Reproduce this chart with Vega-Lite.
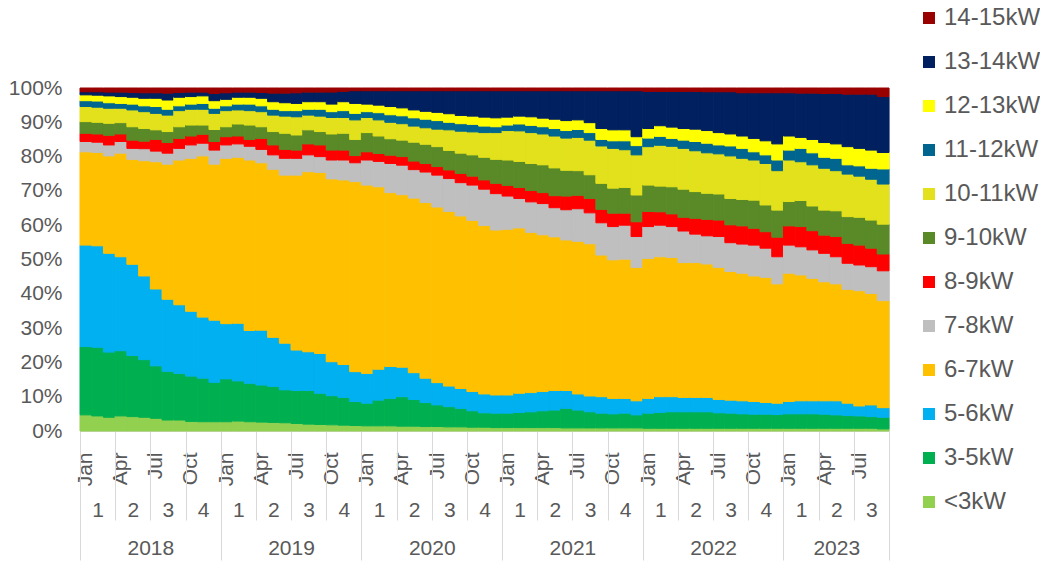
{
"$schema": "https://vega.github.io/schema/vega-lite/v6.json",
"width": 809, "height": 343,
"autosize": {"type": "none"},
"padding": {"left": 80, "top": 88, "right": 151, "bottom": 140},
"background": "white",
"config": {"view": {"stroke": "#d9d9d9"}, "font": "Liberation Sans",
  "axis": {"labelFont": "Liberation Sans", "labelColor": "#595959", "labelFontSize": 21, "grid": false, "title": null}},
"resolve": {"scale": {"x": "independent"}, "axis": {"x": "independent"}},
"layer": [
{
"data": {"values": [
{"m":"2018-01","s":"<3kW","k":0,"v":4.7},{"m":"2018-01","s":"3-5kW","k":1,"v":19.9},{"m":"2018-01","s":"5-6kW","k":2,"v":29.6},{"m":"2018-01","s":"6-7kW","k":3,"v":27.2},{"m":"2018-01","s":"7-8kW","k":4,"v":3.0},{"m":"2018-01","s":"8-9kW","k":5,"v":2.4},{"m":"2018-01","s":"9-10kW","k":6,"v":3.4},{"m":"2018-01","s":"10-11kW","k":7,"v":4.4},{"m":"2018-01","s":"11-12kW","k":8,"v":1.7},{"m":"2018-01","s":"12-13kW","k":9,"v":1.7},{"m":"2018-01","s":"13-14kW","k":10,"v":0.9},{"m":"2018-01","s":"14-15kW","k":11,"v":1.1},
{"m":"2018-02","s":"<3kW","k":0,"v":4.4},{"m":"2018-02","s":"3-5kW","k":1,"v":20.0},{"m":"2018-02","s":"5-6kW","k":2,"v":29.6},{"m":"2018-02","s":"6-7kW","k":3,"v":27.2},{"m":"2018-02","s":"7-8kW","k":4,"v":3.0},{"m":"2018-02","s":"8-9kW","k":5,"v":2.4},{"m":"2018-02","s":"9-10kW","k":6,"v":3.4},{"m":"2018-02","s":"10-11kW","k":7,"v":4.4},{"m":"2018-02","s":"11-12kW","k":8,"v":1.8},{"m":"2018-02","s":"12-13kW","k":9,"v":1.7},{"m":"2018-02","s":"13-14kW","k":10,"v":1.0},{"m":"2018-02","s":"14-15kW","k":11,"v":1.1},
{"m":"2018-03","s":"<3kW","k":0,"v":4.0},{"m":"2018-03","s":"3-5kW","k":1,"v":19.0},{"m":"2018-03","s":"5-6kW","k":2,"v":28.8},{"m":"2018-03","s":"6-7kW","k":3,"v":28.4},{"m":"2018-03","s":"7-8kW","k":4,"v":3.2},{"m":"2018-03","s":"8-9kW","k":5,"v":2.8},{"m":"2018-03","s":"9-10kW","k":6,"v":3.5},{"m":"2018-03","s":"10-11kW","k":7,"v":4.4},{"m":"2018-03","s":"11-12kW","k":8,"v":1.6},{"m":"2018-03","s":"12-13kW","k":9,"v":2.0},{"m":"2018-03","s":"13-14kW","k":10,"v":1.1},{"m":"2018-03","s":"14-15kW","k":11,"v":1.2},
{"m":"2018-04","s":"<3kW","k":0,"v":4.4},{"m":"2018-04","s":"3-5kW","k":1,"v":19.0},{"m":"2018-04","s":"5-6kW","k":2,"v":27.4},{"m":"2018-04","s":"6-7kW","k":3,"v":30.2},{"m":"2018-04","s":"7-8kW","k":4,"v":3.4},{"m":"2018-04","s":"8-9kW","k":5,"v":2.2},{"m":"2018-04","s":"9-10kW","k":6,"v":3.3},{"m":"2018-04","s":"10-11kW","k":7,"v":4.2},{"m":"2018-04","s":"11-12kW","k":8,"v":1.4},{"m":"2018-04","s":"12-13kW","k":9,"v":2.0},{"m":"2018-04","s":"13-14kW","k":10,"v":1.3},{"m":"2018-04","s":"14-15kW","k":11,"v":1.2},
{"m":"2018-05","s":"<3kW","k":0,"v":4.2},{"m":"2018-05","s":"3-5kW","k":1,"v":17.8},{"m":"2018-05","s":"5-6kW","k":2,"v":26.6},{"m":"2018-05","s":"6-7kW","k":3,"v":30.6},{"m":"2018-05","s":"7-8kW","k":4,"v":3.2},{"m":"2018-05","s":"8-9kW","k":5,"v":2.4},{"m":"2018-05","s":"9-10kW","k":6,"v":3.9},{"m":"2018-05","s":"10-11kW","k":7,"v":4.9},{"m":"2018-05","s":"11-12kW","k":8,"v":1.7},{"m":"2018-05","s":"12-13kW","k":9,"v":2.0},{"m":"2018-05","s":"13-14kW","k":10,"v":1.4},{"m":"2018-05","s":"14-15kW","k":11,"v":1.3},
{"m":"2018-06","s":"<3kW","k":0,"v":4.0},{"m":"2018-06","s":"3-5kW","k":1,"v":16.8},{"m":"2018-06","s":"5-6kW","k":2,"v":24.4},{"m":"2018-06","s":"6-7kW","k":3,"v":33.6},{"m":"2018-06","s":"7-8kW","k":4,"v":3.5},{"m":"2018-06","s":"8-9kW","k":5,"v":2.2},{"m":"2018-06","s":"9-10kW","k":6,"v":3.7},{"m":"2018-06","s":"10-11kW","k":7,"v":4.9},{"m":"2018-06","s":"11-12kW","k":8,"v":1.7},{"m":"2018-06","s":"12-13kW","k":9,"v":2.2},{"m":"2018-06","s":"13-14kW","k":10,"v":1.6},{"m":"2018-06","s":"14-15kW","k":11,"v":1.4},
{"m":"2018-07","s":"<3kW","k":0,"v":3.7},{"m":"2018-07","s":"3-5kW","k":1,"v":15.3},{"m":"2018-07","s":"5-6kW","k":2,"v":22.4},{"m":"2018-07","s":"6-7kW","k":3,"v":37.1},{"m":"2018-07","s":"7-8kW","k":4,"v":3.1},{"m":"2018-07","s":"8-9kW","k":5,"v":3.4},{"m":"2018-07","s":"9-10kW","k":6,"v":2.8},{"m":"2018-07","s":"10-11kW","k":7,"v":4.8},{"m":"2018-07","s":"11-12kW","k":8,"v":2.0},{"m":"2018-07","s":"12-13kW","k":9,"v":2.4},{"m":"2018-07","s":"13-14kW","k":10,"v":1.6},{"m":"2018-07","s":"14-15kW","k":11,"v":1.4},
{"m":"2018-08","s":"<3kW","k":0,"v":3.2},{"m":"2018-08","s":"3-5kW","k":1,"v":14.2},{"m":"2018-08","s":"5-6kW","k":2,"v":21.0},{"m":"2018-08","s":"6-7kW","k":3,"v":39.4},{"m":"2018-08","s":"7-8kW","k":4,"v":3.2},{"m":"2018-08","s":"8-9kW","k":5,"v":3.1},{"m":"2018-08","s":"9-10kW","k":6,"v":3.2},{"m":"2018-08","s":"10-11kW","k":7,"v":4.8},{"m":"2018-08","s":"11-12kW","k":8,"v":1.7},{"m":"2018-08","s":"12-13kW","k":9,"v":2.7},{"m":"2018-08","s":"13-14kW","k":10,"v":2.0},{"m":"2018-08","s":"14-15kW","k":11,"v":1.5},
{"m":"2018-09","s":"<3kW","k":0,"v":3.2},{"m":"2018-09","s":"3-5kW","k":1,"v":13.6},{"m":"2018-09","s":"5-6kW","k":2,"v":20.0},{"m":"2018-09","s":"6-7kW","k":3,"v":42.2},{"m":"2018-09","s":"7-8kW","k":4,"v":3.4},{"m":"2018-09","s":"8-9kW","k":5,"v":2.9},{"m":"2018-09","s":"9-10kW","k":6,"v":3.4},{"m":"2018-09","s":"10-11kW","k":7,"v":4.7},{"m":"2018-09","s":"11-12kW","k":8,"v":1.4},{"m":"2018-09","s":"12-13kW","k":9,"v":2.5},{"m":"2018-09","s":"13-14kW","k":10,"v":1.4},{"m":"2018-09","s":"14-15kW","k":11,"v":1.3},
{"m":"2018-10","s":"<3kW","k":0,"v":2.8},{"m":"2018-10","s":"3-5kW","k":1,"v":13.2},{"m":"2018-10","s":"5-6kW","k":2,"v":18.9},{"m":"2018-10","s":"6-7kW","k":3,"v":44.6},{"m":"2018-10","s":"7-8kW","k":4,"v":3.9},{"m":"2018-10","s":"8-9kW","k":5,"v":2.6},{"m":"2018-10","s":"9-10kW","k":6,"v":3.2},{"m":"2018-10","s":"10-11kW","k":7,"v":4.6},{"m":"2018-10","s":"11-12kW","k":8,"v":1.5},{"m":"2018-10","s":"12-13kW","k":9,"v":2.2},{"m":"2018-10","s":"13-14kW","k":10,"v":1.3},{"m":"2018-10","s":"14-15kW","k":11,"v":1.2},
{"m":"2018-11","s":"<3kW","k":0,"v":2.7},{"m":"2018-11","s":"3-5kW","k":1,"v":12.7},{"m":"2018-11","s":"5-6kW","k":2,"v":17.8},{"m":"2018-11","s":"6-7kW","k":3,"v":47.0},{"m":"2018-11","s":"7-8kW","k":4,"v":3.7},{"m":"2018-11","s":"8-9kW","k":5,"v":2.6},{"m":"2018-11","s":"9-10kW","k":6,"v":2.7},{"m":"2018-11","s":"10-11kW","k":7,"v":4.6},{"m":"2018-11","s":"11-12kW","k":8,"v":1.7},{"m":"2018-11","s":"12-13kW","k":9,"v":2.2},{"m":"2018-11","s":"13-14kW","k":10,"v":1.1},{"m":"2018-11","s":"14-15kW","k":11,"v":1.2},
{"m":"2018-12","s":"<3kW","k":0,"v":2.7},{"m":"2018-12","s":"3-5kW","k":1,"v":11.5},{"m":"2018-12","s":"5-6kW","k":2,"v":18.1},{"m":"2018-12","s":"6-7kW","k":3,"v":45.5},{"m":"2018-12","s":"7-8kW","k":4,"v":4.1},{"m":"2018-12","s":"8-9kW","k":5,"v":2.5},{"m":"2018-12","s":"9-10kW","k":6,"v":3.5},{"m":"2018-12","s":"10-11kW","k":7,"v":4.7},{"m":"2018-12","s":"11-12kW","k":8,"v":1.5},{"m":"2018-12","s":"12-13kW","k":9,"v":2.2},{"m":"2018-12","s":"13-14kW","k":10,"v":2.1},{"m":"2018-12","s":"14-15kW","k":11,"v":1.6},
{"m":"2019-01","s":"<3kW","k":0,"v":2.7},{"m":"2019-01","s":"3-5kW","k":1,"v":12.5},{"m":"2019-01","s":"5-6kW","k":2,"v":16.1},{"m":"2019-01","s":"6-7kW","k":3,"v":48.2},{"m":"2019-01","s":"7-8kW","k":4,"v":3.9},{"m":"2019-01","s":"8-9kW","k":5,"v":2.4},{"m":"2019-01","s":"9-10kW","k":6,"v":2.9},{"m":"2019-01","s":"10-11kW","k":7,"v":4.7},{"m":"2019-01","s":"11-12kW","k":8,"v":1.4},{"m":"2019-01","s":"12-13kW","k":9,"v":1.9},{"m":"2019-01","s":"13-14kW","k":10,"v":1.9},{"m":"2019-01","s":"14-15kW","k":11,"v":1.4},
{"m":"2019-02","s":"<3kW","k":0,"v":2.9},{"m":"2019-02","s":"3-5kW","k":1,"v":11.7},{"m":"2019-02","s":"5-6kW","k":2,"v":16.8},{"m":"2019-02","s":"6-7kW","k":3,"v":48.4},{"m":"2019-02","s":"7-8kW","k":4,"v":3.9},{"m":"2019-02","s":"8-9kW","k":5,"v":2.3},{"m":"2019-02","s":"9-10kW","k":6,"v":3.5},{"m":"2019-02","s":"10-11kW","k":7,"v":4.1},{"m":"2019-02","s":"11-12kW","k":8,"v":1.7},{"m":"2019-02","s":"12-13kW","k":9,"v":2.0},{"m":"2019-02","s":"13-14kW","k":10,"v":1.5},{"m":"2019-02","s":"14-15kW","k":11,"v":1.2},
{"m":"2019-03","s":"<3kW","k":0,"v":2.7},{"m":"2019-03","s":"3-5kW","k":1,"v":11.2},{"m":"2019-03","s":"5-6kW","k":2,"v":15.4},{"m":"2019-03","s":"6-7kW","k":3,"v":49.7},{"m":"2019-03","s":"7-8kW","k":4,"v":4.0},{"m":"2019-03","s":"8-9kW","k":5,"v":2.0},{"m":"2019-03","s":"9-10kW","k":6,"v":4.2},{"m":"2019-03","s":"10-11kW","k":7,"v":4.2},{"m":"2019-03","s":"11-12kW","k":8,"v":1.9},{"m":"2019-03","s":"12-13kW","k":9,"v":2.0},{"m":"2019-03","s":"13-14kW","k":10,"v":1.5},{"m":"2019-03","s":"14-15kW","k":11,"v":1.2},
{"m":"2019-04","s":"<3kW","k":0,"v":2.6},{"m":"2019-04","s":"3-5kW","k":1,"v":10.8},{"m":"2019-04","s":"5-6kW","k":2,"v":16.0},{"m":"2019-04","s":"6-7kW","k":3,"v":48.8},{"m":"2019-04","s":"7-8kW","k":4,"v":3.9},{"m":"2019-04","s":"8-9kW","k":5,"v":3.2},{"m":"2019-04","s":"9-10kW","k":6,"v":3.4},{"m":"2019-04","s":"10-11kW","k":7,"v":4.4},{"m":"2019-04","s":"11-12kW","k":8,"v":1.7},{"m":"2019-04","s":"12-13kW","k":9,"v":2.2},{"m":"2019-04","s":"13-14kW","k":10,"v":1.7},{"m":"2019-04","s":"14-15kW","k":11,"v":1.3},
{"m":"2019-05","s":"<3kW","k":0,"v":2.5},{"m":"2019-05","s":"3-5kW","k":1,"v":10.5},{"m":"2019-05","s":"5-6kW","k":2,"v":14.3},{"m":"2019-05","s":"6-7kW","k":3,"v":49.0},{"m":"2019-05","s":"7-8kW","k":4,"v":4.2},{"m":"2019-05","s":"8-9kW","k":5,"v":2.9},{"m":"2019-05","s":"9-10kW","k":6,"v":3.9},{"m":"2019-05","s":"10-11kW","k":7,"v":4.8},{"m":"2019-05","s":"11-12kW","k":8,"v":1.7},{"m":"2019-05","s":"12-13kW","k":9,"v":2.2},{"m":"2019-05","s":"13-14kW","k":10,"v":2.5},{"m":"2019-05","s":"14-15kW","k":11,"v":1.5},
{"m":"2019-06","s":"<3kW","k":0,"v":2.4},{"m":"2019-06","s":"3-5kW","k":1,"v":9.6},{"m":"2019-06","s":"5-6kW","k":2,"v":13.6},{"m":"2019-06","s":"6-7kW","k":3,"v":49.0},{"m":"2019-06","s":"7-8kW","k":4,"v":4.9},{"m":"2019-06","s":"8-9kW","k":5,"v":2.6},{"m":"2019-06","s":"9-10kW","k":6,"v":4.7},{"m":"2019-06","s":"10-11kW","k":7,"v":5.0},{"m":"2019-06","s":"11-12kW","k":8,"v":1.6},{"m":"2019-06","s":"12-13kW","k":9,"v":2.3},{"m":"2019-06","s":"13-14kW","k":10,"v":2.8},{"m":"2019-06","s":"14-15kW","k":11,"v":1.5},
{"m":"2019-07","s":"<3kW","k":0,"v":2.2},{"m":"2019-07","s":"3-5kW","k":1,"v":9.6},{"m":"2019-07","s":"5-6kW","k":2,"v":11.8},{"m":"2019-07","s":"6-7kW","k":3,"v":51.0},{"m":"2019-07","s":"7-8kW","k":4,"v":4.9},{"m":"2019-07","s":"8-9kW","k":5,"v":2.4},{"m":"2019-07","s":"9-10kW","k":6,"v":4.4},{"m":"2019-07","s":"10-11kW","k":7,"v":5.3},{"m":"2019-07","s":"11-12kW","k":8,"v":1.8},{"m":"2019-07","s":"12-13kW","k":9,"v":2.1},{"m":"2019-07","s":"13-14kW","k":10,"v":3.1},{"m":"2019-07","s":"14-15kW","k":11,"v":1.4},
{"m":"2019-08","s":"<3kW","k":0,"v":2.0},{"m":"2019-08","s":"3-5kW","k":1,"v":9.8},{"m":"2019-08","s":"5-6kW","k":2,"v":11.3},{"m":"2019-08","s":"6-7kW","k":3,"v":52.5},{"m":"2019-08","s":"7-8kW","k":4,"v":4.9},{"m":"2019-08","s":"8-9kW","k":5,"v":3.2},{"m":"2019-08","s":"9-10kW","k":6,"v":4.1},{"m":"2019-08","s":"10-11kW","k":7,"v":4.3},{"m":"2019-08","s":"11-12kW","k":8,"v":1.7},{"m":"2019-08","s":"12-13kW","k":9,"v":2.2},{"m":"2019-08","s":"13-14kW","k":10,"v":2.8},{"m":"2019-08","s":"14-15kW","k":11,"v":1.2},
{"m":"2019-09","s":"<3kW","k":0,"v":1.9},{"m":"2019-09","s":"3-5kW","k":1,"v":9.1},{"m":"2019-09","s":"5-6kW","k":2,"v":11.6},{"m":"2019-09","s":"6-7kW","k":3,"v":52.8},{"m":"2019-09","s":"7-8kW","k":4,"v":4.6},{"m":"2019-09","s":"8-9kW","k":5,"v":3.4},{"m":"2019-09","s":"9-10kW","k":6,"v":3.9},{"m":"2019-09","s":"10-11kW","k":7,"v":4.5},{"m":"2019-09","s":"11-12kW","k":8,"v":2.0},{"m":"2019-09","s":"12-13kW","k":9,"v":2.2},{"m":"2019-09","s":"13-14kW","k":10,"v":2.8},{"m":"2019-09","s":"14-15kW","k":11,"v":1.2},
{"m":"2019-10","s":"<3kW","k":0,"v":1.8},{"m":"2019-10","s":"3-5kW","k":1,"v":8.5},{"m":"2019-10","s":"5-6kW","k":2,"v":9.9},{"m":"2019-10","s":"6-7kW","k":3,"v":53.3},{"m":"2019-10","s":"7-8kW","k":4,"v":5.5},{"m":"2019-10","s":"8-9kW","k":5,"v":2.9},{"m":"2019-10","s":"9-10kW","k":6,"v":4.7},{"m":"2019-10","s":"10-11kW","k":7,"v":4.8},{"m":"2019-10","s":"11-12kW","k":8,"v":1.7},{"m":"2019-10","s":"12-13kW","k":9,"v":2.2},{"m":"2019-10","s":"13-14kW","k":10,"v":3.5},{"m":"2019-10","s":"14-15kW","k":11,"v":1.2},
{"m":"2019-11","s":"<3kW","k":0,"v":1.7},{"m":"2019-11","s":"3-5kW","k":1,"v":8.1},{"m":"2019-11","s":"5-6kW","k":2,"v":9.6},{"m":"2019-11","s":"6-7kW","k":3,"v":53.8},{"m":"2019-11","s":"7-8kW","k":4,"v":5.8},{"m":"2019-11","s":"8-9kW","k":5,"v":2.9},{"m":"2019-11","s":"9-10kW","k":6,"v":4.9},{"m":"2019-11","s":"10-11kW","k":7,"v":4.6},{"m":"2019-11","s":"11-12kW","k":8,"v":2.0},{"m":"2019-11","s":"12-13kW","k":9,"v":2.6},{"m":"2019-11","s":"13-14kW","k":10,"v":3.0},{"m":"2019-11","s":"14-15kW","k":11,"v":1.0},
{"m":"2019-12","s":"<3kW","k":0,"v":1.6},{"m":"2019-12","s":"3-5kW","k":1,"v":7.0},{"m":"2019-12","s":"5-6kW","k":2,"v":8.7},{"m":"2019-12","s":"6-7kW","k":3,"v":55.4},{"m":"2019-12","s":"7-8kW","k":4,"v":5.5},{"m":"2019-12","s":"8-9kW","k":5,"v":2.1},{"m":"2019-12","s":"9-10kW","k":6,"v":4.7},{"m":"2019-12","s":"10-11kW","k":7,"v":5.7},{"m":"2019-12","s":"11-12kW","k":8,"v":1.9},{"m":"2019-12","s":"12-13kW","k":9,"v":2.9},{"m":"2019-12","s":"13-14kW","k":10,"v":3.7},{"m":"2019-12","s":"14-15kW","k":11,"v":0.8},
{"m":"2020-01","s":"<3kW","k":0,"v":1.5},{"m":"2020-01","s":"3-5kW","k":1,"v":6.6},{"m":"2020-01","s":"5-6kW","k":2,"v":8.7},{"m":"2020-01","s":"6-7kW","k":3,"v":54.9},{"m":"2020-01","s":"7-8kW","k":4,"v":7.3},{"m":"2020-01","s":"8-9kW","k":5,"v":2.4},{"m":"2020-01","s":"9-10kW","k":6,"v":5.6},{"m":"2020-01","s":"10-11kW","k":7,"v":4.4},{"m":"2020-01","s":"11-12kW","k":8,"v":1.7},{"m":"2020-01","s":"12-13kW","k":9,"v":2.2},{"m":"2020-01","s":"13-14kW","k":10,"v":3.9},{"m":"2020-01","s":"14-15kW","k":11,"v":0.8},
{"m":"2020-02","s":"<3kW","k":0,"v":1.5},{"m":"2020-02","s":"3-5kW","k":1,"v":7.5},{"m":"2020-02","s":"5-6kW","k":2,"v":9.0},{"m":"2020-02","s":"6-7kW","k":3,"v":53.2},{"m":"2020-02","s":"7-8kW","k":4,"v":7.4},{"m":"2020-02","s":"8-9kW","k":5,"v":2.3},{"m":"2020-02","s":"9-10kW","k":6,"v":5.1},{"m":"2020-02","s":"10-11kW","k":7,"v":4.7},{"m":"2020-02","s":"11-12kW","k":8,"v":2.1},{"m":"2020-02","s":"12-13kW","k":9,"v":2.2},{"m":"2020-02","s":"13-14kW","k":10,"v":4.2},{"m":"2020-02","s":"14-15kW","k":11,"v":0.8},
{"m":"2020-03","s":"<3kW","k":0,"v":1.5},{"m":"2020-03","s":"3-5kW","k":1,"v":8.0},{"m":"2020-03","s":"5-6kW","k":2,"v":9.3},{"m":"2020-03","s":"6-7kW","k":3,"v":50.7},{"m":"2020-03","s":"7-8kW","k":4,"v":8.5},{"m":"2020-03","s":"8-9kW","k":5,"v":2.4},{"m":"2020-03","s":"9-10kW","k":6,"v":4.8},{"m":"2020-03","s":"10-11kW","k":7,"v":4.8},{"m":"2020-03","s":"11-12kW","k":8,"v":2.2},{"m":"2020-03","s":"12-13kW","k":9,"v":2.4},{"m":"2020-03","s":"13-14kW","k":10,"v":4.6},{"m":"2020-03","s":"14-15kW","k":11,"v":0.8},
{"m":"2020-04","s":"<3kW","k":0,"v":1.4},{"m":"2020-04","s":"3-5kW","k":1,"v":8.6},{"m":"2020-04","s":"5-6kW","k":2,"v":8.6},{"m":"2020-04","s":"6-7kW","k":3,"v":50.3},{"m":"2020-04","s":"7-8kW","k":4,"v":8.6},{"m":"2020-04","s":"8-9kW","k":5,"v":2.5},{"m":"2020-04","s":"9-10kW","k":6,"v":4.8},{"m":"2020-04","s":"10-11kW","k":7,"v":4.8},{"m":"2020-04","s":"11-12kW","k":8,"v":2.3},{"m":"2020-04","s":"12-13kW","k":9,"v":2.3},{"m":"2020-04","s":"13-14kW","k":10,"v":5.0},{"m":"2020-04","s":"14-15kW","k":11,"v":0.8},
{"m":"2020-05","s":"<3kW","k":0,"v":1.4},{"m":"2020-05","s":"3-5kW","k":1,"v":7.8},{"m":"2020-05","s":"5-6kW","k":2,"v":7.8},{"m":"2020-05","s":"6-7kW","k":3,"v":50.9},{"m":"2020-05","s":"7-8kW","k":4,"v":8.3},{"m":"2020-05","s":"8-9kW","k":5,"v":2.5},{"m":"2020-05","s":"9-10kW","k":6,"v":5.5},{"m":"2020-05","s":"10-11kW","k":7,"v":4.7},{"m":"2020-05","s":"11-12kW","k":8,"v":2.4},{"m":"2020-05","s":"12-13kW","k":9,"v":2.3},{"m":"2020-05","s":"13-14kW","k":10,"v":5.6},{"m":"2020-05","s":"14-15kW","k":11,"v":0.8},
{"m":"2020-06","s":"<3kW","k":0,"v":1.3},{"m":"2020-06","s":"3-5kW","k":1,"v":7.0},{"m":"2020-06","s":"5-6kW","k":2,"v":7.1},{"m":"2020-06","s":"6-7kW","k":3,"v":51.2},{"m":"2020-06","s":"7-8kW","k":4,"v":8.9},{"m":"2020-06","s":"8-9kW","k":5,"v":2.5},{"m":"2020-06","s":"9-10kW","k":6,"v":5.6},{"m":"2020-06","s":"10-11kW","k":7,"v":4.8},{"m":"2020-06","s":"11-12kW","k":8,"v":2.5},{"m":"2020-06","s":"12-13kW","k":9,"v":2.3},{"m":"2020-06","s":"13-14kW","k":10,"v":6.0},{"m":"2020-06","s":"14-15kW","k":11,"v":0.8},
{"m":"2020-07","s":"<3kW","k":0,"v":1.3},{"m":"2020-07","s":"3-5kW","k":1,"v":6.3},{"m":"2020-07","s":"5-6kW","k":2,"v":6.5},{"m":"2020-07","s":"6-7kW","k":3,"v":51.2},{"m":"2020-07","s":"7-8kW","k":4,"v":9.3},{"m":"2020-07","s":"8-9kW","k":5,"v":2.5},{"m":"2020-07","s":"9-10kW","k":6,"v":5.8},{"m":"2020-07","s":"10-11kW","k":7,"v":5.1},{"m":"2020-07","s":"11-12kW","k":8,"v":2.5},{"m":"2020-07","s":"12-13kW","k":9,"v":2.4},{"m":"2020-07","s":"13-14kW","k":10,"v":6.3},{"m":"2020-07","s":"14-15kW","k":11,"v":0.8},
{"m":"2020-08","s":"<3kW","k":0,"v":1.2},{"m":"2020-08","s":"3-5kW","k":1,"v":5.9},{"m":"2020-08","s":"5-6kW","k":2,"v":6.0},{"m":"2020-08","s":"6-7kW","k":3,"v":50.9},{"m":"2020-08","s":"7-8kW","k":4,"v":9.6},{"m":"2020-08","s":"8-9kW","k":5,"v":2.5},{"m":"2020-08","s":"9-10kW","k":6,"v":5.7},{"m":"2020-08","s":"10-11kW","k":7,"v":6.0},{"m":"2020-08","s":"11-12kW","k":8,"v":2.2},{"m":"2020-08","s":"12-13kW","k":9,"v":2.5},{"m":"2020-08","s":"13-14kW","k":10,"v":6.7},{"m":"2020-08","s":"14-15kW","k":11,"v":0.8},
{"m":"2020-09","s":"<3kW","k":0,"v":1.2},{"m":"2020-09","s":"3-5kW","k":1,"v":5.4},{"m":"2020-09","s":"5-6kW","k":2,"v":5.8},{"m":"2020-09","s":"6-7kW","k":3,"v":50.3},{"m":"2020-09","s":"7-8kW","k":4,"v":9.7},{"m":"2020-09","s":"8-9kW","k":5,"v":2.7},{"m":"2020-09","s":"9-10kW","k":6,"v":5.9},{"m":"2020-09","s":"10-11kW","k":7,"v":6.4},{"m":"2020-09","s":"11-12kW","k":8,"v":2.2},{"m":"2020-09","s":"12-13kW","k":9,"v":2.4},{"m":"2020-09","s":"13-14kW","k":10,"v":7.2},{"m":"2020-09","s":"14-15kW","k":11,"v":0.8},
{"m":"2020-10","s":"<3kW","k":0,"v":1.1},{"m":"2020-10","s":"3-5kW","k":1,"v":4.8},{"m":"2020-10","s":"5-6kW","k":2,"v":5.6},{"m":"2020-10","s":"6-7kW","k":3,"v":49.9},{"m":"2020-10","s":"7-8kW","k":4,"v":10.3},{"m":"2020-10","s":"8-9kW","k":5,"v":2.6},{"m":"2020-10","s":"9-10kW","k":6,"v":6.2},{"m":"2020-10","s":"10-11kW","k":7,"v":6.7},{"m":"2020-10","s":"11-12kW","k":8,"v":2.2},{"m":"2020-10","s":"12-13kW","k":9,"v":2.4},{"m":"2020-10","s":"13-14kW","k":10,"v":7.4},{"m":"2020-10","s":"14-15kW","k":11,"v":0.8},
{"m":"2020-11","s":"<3kW","k":0,"v":1.1},{"m":"2020-11","s":"3-5kW","k":1,"v":4.2},{"m":"2020-11","s":"5-6kW","k":2,"v":5.5},{"m":"2020-11","s":"6-7kW","k":3,"v":49.1},{"m":"2020-11","s":"7-8kW","k":4,"v":10.6},{"m":"2020-11","s":"8-9kW","k":5,"v":2.7},{"m":"2020-11","s":"9-10kW","k":6,"v":6.6},{"m":"2020-11","s":"10-11kW","k":7,"v":7.2},{"m":"2020-11","s":"11-12kW","k":8,"v":1.9},{"m":"2020-11","s":"12-13kW","k":9,"v":2.6},{"m":"2020-11","s":"13-14kW","k":10,"v":7.7},{"m":"2020-11","s":"14-15kW","k":11,"v":0.8},
{"m":"2020-12","s":"<3kW","k":0,"v":1.0},{"m":"2020-12","s":"3-5kW","k":1,"v":4.2},{"m":"2020-12","s":"5-6kW","k":2,"v":5.3},{"m":"2020-12","s":"6-7kW","k":3,"v":48.1},{"m":"2020-12","s":"7-8kW","k":4,"v":10.6},{"m":"2020-12","s":"8-9kW","k":5,"v":3.0},{"m":"2020-12","s":"9-10kW","k":6,"v":7.0},{"m":"2020-12","s":"10-11kW","k":7,"v":7.8},{"m":"2020-12","s":"11-12kW","k":8,"v":1.7},{"m":"2020-12","s":"12-13kW","k":9,"v":2.6},{"m":"2020-12","s":"13-14kW","k":10,"v":7.9},{"m":"2020-12","s":"14-15kW","k":11,"v":0.8},
{"m":"2021-01","s":"<3kW","k":0,"v":1.0},{"m":"2021-01","s":"3-5kW","k":1,"v":4.2},{"m":"2021-01","s":"5-6kW","k":2,"v":5.3},{"m":"2021-01","s":"6-7kW","k":3,"v":48.3},{"m":"2021-01","s":"7-8kW","k":4,"v":9.7},{"m":"2021-01","s":"8-9kW","k":5,"v":3.1},{"m":"2021-01","s":"9-10kW","k":6,"v":7.4},{"m":"2021-01","s":"10-11kW","k":7,"v":8.6},{"m":"2021-01","s":"11-12kW","k":8,"v":1.6},{"m":"2021-01","s":"12-13kW","k":9,"v":2.3},{"m":"2021-01","s":"13-14kW","k":10,"v":7.7},{"m":"2021-01","s":"14-15kW","k":11,"v":0.8},
{"m":"2021-02","s":"<3kW","k":0,"v":1.0},{"m":"2021-02","s":"3-5kW","k":1,"v":4.4},{"m":"2021-02","s":"5-6kW","k":2,"v":5.6},{"m":"2021-02","s":"6-7kW","k":3,"v":48.2},{"m":"2021-02","s":"7-8kW","k":4,"v":8.6},{"m":"2021-02","s":"8-9kW","k":5,"v":3.2},{"m":"2021-02","s":"9-10kW","k":6,"v":7.6},{"m":"2021-02","s":"10-11kW","k":7,"v":8.9},{"m":"2021-02","s":"11-12kW","k":8,"v":2.0},{"m":"2021-02","s":"12-13kW","k":9,"v":2.3},{"m":"2021-02","s":"13-14kW","k":10,"v":7.4},{"m":"2021-02","s":"14-15kW","k":11,"v":0.8},
{"m":"2021-03","s":"<3kW","k":0,"v":1.0},{"m":"2021-03","s":"3-5kW","k":1,"v":4.6},{"m":"2021-03","s":"5-6kW","k":2,"v":5.6},{"m":"2021-03","s":"6-7kW","k":3,"v":46.7},{"m":"2021-03","s":"7-8kW","k":4,"v":8.9},{"m":"2021-03","s":"8-9kW","k":5,"v":3.3},{"m":"2021-03","s":"9-10kW","k":6,"v":7.9},{"m":"2021-03","s":"10-11kW","k":7,"v":9.0},{"m":"2021-03","s":"11-12kW","k":8,"v":2.1},{"m":"2021-03","s":"12-13kW","k":9,"v":2.5},{"m":"2021-03","s":"13-14kW","k":10,"v":7.6},{"m":"2021-03","s":"14-15kW","k":11,"v":0.8},
{"m":"2021-04","s":"<3kW","k":0,"v":1.0},{"m":"2021-04","s":"3-5kW","k":1,"v":4.9},{"m":"2021-04","s":"5-6kW","k":2,"v":5.6},{"m":"2021-04","s":"6-7kW","k":3,"v":45.7},{"m":"2021-04","s":"7-8kW","k":4,"v":9.1},{"m":"2021-04","s":"8-9kW","k":5,"v":3.2},{"m":"2021-04","s":"9-10kW","k":6,"v":8.1},{"m":"2021-04","s":"10-11kW","k":7,"v":9.0},{"m":"2021-04","s":"11-12kW","k":8,"v":2.1},{"m":"2021-04","s":"12-13kW","k":9,"v":2.5},{"m":"2021-04","s":"13-14kW","k":10,"v":8.0},{"m":"2021-04","s":"14-15kW","k":11,"v":0.8},
{"m":"2021-05","s":"<3kW","k":0,"v":1.0},{"m":"2021-05","s":"3-5kW","k":1,"v":5.1},{"m":"2021-05","s":"5-6kW","k":2,"v":5.7},{"m":"2021-05","s":"6-7kW","k":3,"v":44.8},{"m":"2021-05","s":"7-8kW","k":4,"v":8.5},{"m":"2021-05","s":"8-9kW","k":5,"v":3.5},{"m":"2021-05","s":"9-10kW","k":6,"v":8.1},{"m":"2021-05","s":"10-11kW","k":7,"v":9.3},{"m":"2021-05","s":"11-12kW","k":8,"v":2.2},{"m":"2021-05","s":"12-13kW","k":9,"v":2.7},{"m":"2021-05","s":"13-14kW","k":10,"v":8.3},{"m":"2021-05","s":"14-15kW","k":11,"v":0.8},
{"m":"2021-06","s":"<3kW","k":0,"v":0.9},{"m":"2021-06","s":"3-5kW","k":1,"v":5.7},{"m":"2021-06","s":"5-6kW","k":2,"v":5.2},{"m":"2021-06","s":"6-7kW","k":3,"v":43.9},{"m":"2021-06","s":"7-8kW","k":4,"v":8.8},{"m":"2021-06","s":"8-9kW","k":5,"v":4.0},{"m":"2021-06","s":"9-10kW","k":6,"v":7.5},{"m":"2021-06","s":"10-11kW","k":7,"v":9.4},{"m":"2021-06","s":"11-12kW","k":8,"v":2.2},{"m":"2021-06","s":"12-13kW","k":9,"v":2.9},{"m":"2021-06","s":"13-14kW","k":10,"v":8.7},{"m":"2021-06","s":"14-15kW","k":11,"v":0.8},
{"m":"2021-07","s":"<3kW","k":0,"v":0.9},{"m":"2021-07","s":"3-5kW","k":1,"v":5.2},{"m":"2021-07","s":"5-6kW","k":2,"v":4.7},{"m":"2021-07","s":"6-7kW","k":3,"v":44.5},{"m":"2021-07","s":"7-8kW","k":4,"v":9.5},{"m":"2021-07","s":"8-9kW","k":5,"v":3.9},{"m":"2021-07","s":"9-10kW","k":6,"v":7.2},{"m":"2021-07","s":"10-11kW","k":7,"v":9.7},{"m":"2021-07","s":"11-12kW","k":8,"v":2.3},{"m":"2021-07","s":"12-13kW","k":9,"v":2.8},{"m":"2021-07","s":"13-14kW","k":10,"v":8.5},{"m":"2021-07","s":"14-15kW","k":11,"v":0.8},
{"m":"2021-08","s":"<3kW","k":0,"v":0.9},{"m":"2021-08","s":"3-5kW","k":1,"v":4.7},{"m":"2021-08","s":"5-6kW","k":2,"v":4.6},{"m":"2021-08","s":"6-7kW","k":3,"v":44.4},{"m":"2021-08","s":"7-8kW","k":4,"v":9.0},{"m":"2021-08","s":"8-9kW","k":5,"v":4.2},{"m":"2021-08","s":"9-10kW","k":6,"v":6.9},{"m":"2021-08","s":"10-11kW","k":7,"v":10.1},{"m":"2021-08","s":"11-12kW","k":8,"v":2.2},{"m":"2021-08","s":"12-13kW","k":9,"v":2.9},{"m":"2021-08","s":"13-14kW","k":10,"v":9.3},{"m":"2021-08","s":"14-15kW","k":11,"v":0.8},
{"m":"2021-09","s":"<3kW","k":0,"v":0.9},{"m":"2021-09","s":"3-5kW","k":1,"v":4.3},{"m":"2021-09","s":"5-6kW","k":2,"v":4.8},{"m":"2021-09","s":"6-7kW","k":3,"v":41.3},{"m":"2021-09","s":"7-8kW","k":4,"v":9.4},{"m":"2021-09","s":"8-9kW","k":5,"v":3.9},{"m":"2021-09","s":"9-10kW","k":6,"v":7.6},{"m":"2021-09","s":"10-11kW","k":7,"v":10.9},{"m":"2021-09","s":"11-12kW","k":8,"v":1.9},{"m":"2021-09","s":"12-13kW","k":9,"v":3.2},{"m":"2021-09","s":"13-14kW","k":10,"v":11.0},{"m":"2021-09","s":"14-15kW","k":11,"v":0.8},
{"m":"2021-10","s":"<3kW","k":0,"v":0.9},{"m":"2021-10","s":"3-5kW","k":1,"v":4.1},{"m":"2021-10","s":"5-6kW","k":2,"v":4.5},{"m":"2021-10","s":"6-7kW","k":3,"v":40.4},{"m":"2021-10","s":"7-8kW","k":4,"v":9.7},{"m":"2021-10","s":"8-9kW","k":5,"v":3.9},{"m":"2021-10","s":"9-10kW","k":6,"v":7.3},{"m":"2021-10","s":"10-11kW","k":7,"v":11.6},{"m":"2021-10","s":"11-12kW","k":8,"v":2.2},{"m":"2021-10","s":"12-13kW","k":9,"v":3.2},{"m":"2021-10","s":"13-14kW","k":10,"v":11.4},{"m":"2021-10","s":"14-15kW","k":11,"v":0.8},
{"m":"2021-11","s":"<3kW","k":0,"v":0.9},{"m":"2021-11","s":"3-5kW","k":1,"v":4.3},{"m":"2021-11","s":"5-6kW","k":2,"v":4.3},{"m":"2021-11","s":"6-7kW","k":3,"v":40.6},{"m":"2021-11","s":"7-8kW","k":4,"v":9.9},{"m":"2021-11","s":"8-9kW","k":5,"v":3.5},{"m":"2021-11","s":"9-10kW","k":6,"v":7.5},{"m":"2021-11","s":"10-11kW","k":7,"v":11.0},{"m":"2021-11","s":"11-12kW","k":8,"v":2.6},{"m":"2021-11","s":"12-13kW","k":9,"v":3.2},{"m":"2021-11","s":"13-14kW","k":10,"v":11.4},{"m":"2021-11","s":"14-15kW","k":11,"v":0.8},
{"m":"2021-12","s":"<3kW","k":0,"v":0.9},{"m":"2021-12","s":"3-5kW","k":1,"v":3.8},{"m":"2021-12","s":"5-6kW","k":2,"v":4.1},{"m":"2021-12","s":"6-7kW","k":3,"v":38.9},{"m":"2021-12","s":"7-8kW","k":4,"v":9.0},{"m":"2021-12","s":"8-9kW","k":5,"v":4.3},{"m":"2021-12","s":"9-10kW","k":6,"v":7.8},{"m":"2021-12","s":"10-11kW","k":7,"v":11.7},{"m":"2021-12","s":"11-12kW","k":8,"v":2.7},{"m":"2021-12","s":"12-13kW","k":9,"v":2.6},{"m":"2021-12","s":"13-14kW","k":10,"v":13.4},{"m":"2021-12","s":"14-15kW","k":11,"v":0.8},
{"m":"2022-01","s":"<3kW","k":0,"v":0.8},{"m":"2022-01","s":"3-5kW","k":1,"v":4.4},{"m":"2022-01","s":"5-6kW","k":2,"v":4.3},{"m":"2022-01","s":"6-7kW","k":3,"v":40.8},{"m":"2022-01","s":"7-8kW","k":4,"v":9.3},{"m":"2022-01","s":"8-9kW","k":5,"v":4.4},{"m":"2022-01","s":"9-10kW","k":6,"v":7.7},{"m":"2022-01","s":"10-11kW","k":7,"v":11.2},{"m":"2022-01","s":"11-12kW","k":8,"v":2.5},{"m":"2022-01","s":"12-13kW","k":9,"v":2.8},{"m":"2022-01","s":"13-14kW","k":10,"v":10.8},{"m":"2022-01","s":"14-15kW","k":11,"v":1.0},
{"m":"2022-02","s":"<3kW","k":0,"v":0.8},{"m":"2022-02","s":"3-5kW","k":1,"v":4.6},{"m":"2022-02","s":"5-6kW","k":2,"v":4.6},{"m":"2022-02","s":"6-7kW","k":3,"v":40.8},{"m":"2022-02","s":"7-8kW","k":4,"v":9.2},{"m":"2022-02","s":"8-9kW","k":5,"v":3.9},{"m":"2022-02","s":"9-10kW","k":6,"v":7.5},{"m":"2022-02","s":"10-11kW","k":7,"v":11.9},{"m":"2022-02","s":"11-12kW","k":8,"v":2.6},{"m":"2022-02","s":"12-13kW","k":9,"v":3.1},{"m":"2022-02","s":"13-14kW","k":10,"v":10.0},{"m":"2022-02","s":"14-15kW","k":11,"v":1.0},
{"m":"2022-03","s":"<3kW","k":0,"v":0.8},{"m":"2022-03","s":"3-5kW","k":1,"v":4.8},{"m":"2022-03","s":"5-6kW","k":2,"v":4.4},{"m":"2022-03","s":"6-7kW","k":3,"v":40.6},{"m":"2022-03","s":"7-8kW","k":4,"v":9.0},{"m":"2022-03","s":"8-9kW","k":5,"v":3.7},{"m":"2022-03","s":"9-10kW","k":6,"v":7.9},{"m":"2022-03","s":"10-11kW","k":7,"v":11.8},{"m":"2022-03","s":"11-12kW","k":8,"v":2.3},{"m":"2022-03","s":"12-13kW","k":9,"v":3.3},{"m":"2022-03","s":"13-14kW","k":10,"v":10.4},{"m":"2022-03","s":"14-15kW","k":11,"v":1.0},
{"m":"2022-04","s":"<3kW","k":0,"v":0.8},{"m":"2022-04","s":"3-5kW","k":1,"v":4.8},{"m":"2022-04","s":"5-6kW","k":2,"v":4.2},{"m":"2022-04","s":"6-7kW","k":3,"v":39.3},{"m":"2022-04","s":"7-8kW","k":4,"v":9.2},{"m":"2022-04","s":"8-9kW","k":5,"v":4.0},{"m":"2022-04","s":"9-10kW","k":6,"v":8.2},{"m":"2022-04","s":"10-11kW","k":7,"v":11.9},{"m":"2022-04","s":"11-12kW","k":8,"v":2.4},{"m":"2022-04","s":"12-13kW","k":9,"v":3.4},{"m":"2022-04","s":"13-14kW","k":10,"v":10.8},{"m":"2022-04","s":"14-15kW","k":11,"v":1.0},
{"m":"2022-05","s":"<3kW","k":0,"v":0.8},{"m":"2022-05","s":"3-5kW","k":1,"v":4.8},{"m":"2022-05","s":"5-6kW","k":2,"v":4.2},{"m":"2022-05","s":"6-7kW","k":3,"v":39.3},{"m":"2022-05","s":"7-8kW","k":4,"v":8.3},{"m":"2022-05","s":"8-9kW","k":5,"v":4.6},{"m":"2022-05","s":"9-10kW","k":6,"v":7.8},{"m":"2022-05","s":"10-11kW","k":7,"v":11.9},{"m":"2022-05","s":"11-12kW","k":8,"v":2.7},{"m":"2022-05","s":"12-13kW","k":9,"v":3.6},{"m":"2022-05","s":"13-14kW","k":10,"v":11.0},{"m":"2022-05","s":"14-15kW","k":11,"v":1.0},
{"m":"2022-06","s":"<3kW","k":0,"v":0.8},{"m":"2022-06","s":"3-5kW","k":1,"v":4.8},{"m":"2022-06","s":"5-6kW","k":2,"v":4.2},{"m":"2022-06","s":"6-7kW","k":3,"v":38.9},{"m":"2022-06","s":"7-8kW","k":4,"v":8.2},{"m":"2022-06","s":"8-9kW","k":5,"v":4.8},{"m":"2022-06","s":"9-10kW","k":6,"v":7.6},{"m":"2022-06","s":"10-11kW","k":7,"v":11.8},{"m":"2022-06","s":"11-12kW","k":8,"v":2.8},{"m":"2022-06","s":"12-13kW","k":9,"v":3.7},{"m":"2022-06","s":"13-14kW","k":10,"v":11.3},{"m":"2022-06","s":"14-15kW","k":11,"v":1.1},
{"m":"2022-07","s":"<3kW","k":0,"v":0.8},{"m":"2022-07","s":"3-5kW","k":1,"v":4.5},{"m":"2022-07","s":"5-6kW","k":2,"v":3.9},{"m":"2022-07","s":"6-7kW","k":3,"v":38.5},{"m":"2022-07","s":"7-8kW","k":4,"v":9.0},{"m":"2022-07","s":"8-9kW","k":5,"v":4.8},{"m":"2022-07","s":"9-10kW","k":6,"v":7.6},{"m":"2022-07","s":"10-11kW","k":7,"v":11.7},{"m":"2022-07","s":"11-12kW","k":8,"v":2.6},{"m":"2022-07","s":"12-13kW","k":9,"v":3.6},{"m":"2022-07","s":"13-14kW","k":10,"v":11.9},{"m":"2022-07","s":"14-15kW","k":11,"v":1.1},
{"m":"2022-08","s":"<3kW","k":0,"v":0.8},{"m":"2022-08","s":"3-5kW","k":1,"v":4.4},{"m":"2022-08","s":"5-6kW","k":2,"v":3.8},{"m":"2022-08","s":"6-7kW","k":3,"v":37.5},{"m":"2022-08","s":"7-8kW","k":4,"v":8.4},{"m":"2022-08","s":"8-9kW","k":5,"v":5.2},{"m":"2022-08","s":"9-10kW","k":6,"v":7.7},{"m":"2022-08","s":"10-11kW","k":7,"v":12.4},{"m":"2022-08","s":"11-12kW","k":8,"v":2.9},{"m":"2022-08","s":"12-13kW","k":9,"v":3.5},{"m":"2022-08","s":"13-14kW","k":10,"v":12.3},{"m":"2022-08","s":"14-15kW","k":11,"v":1.1},
{"m":"2022-09","s":"<3kW","k":0,"v":0.8},{"m":"2022-09","s":"3-5kW","k":1,"v":4.2},{"m":"2022-09","s":"5-6kW","k":2,"v":3.8},{"m":"2022-09","s":"6-7kW","k":3,"v":37.2},{"m":"2022-09","s":"7-8kW","k":4,"v":8.5},{"m":"2022-09","s":"8-9kW","k":5,"v":5.3},{"m":"2022-09","s":"9-10kW","k":6,"v":7.7},{"m":"2022-09","s":"10-11kW","k":7,"v":12.0},{"m":"2022-09","s":"11-12kW","k":8,"v":2.9},{"m":"2022-09","s":"12-13kW","k":9,"v":3.6},{"m":"2022-09","s":"13-14kW","k":10,"v":12.6},{"m":"2022-09","s":"14-15kW","k":11,"v":1.4},
{"m":"2022-10","s":"<3kW","k":0,"v":0.8},{"m":"2022-10","s":"3-5kW","k":1,"v":4.1},{"m":"2022-10","s":"5-6kW","k":2,"v":3.7},{"m":"2022-10","s":"6-7kW","k":3,"v":36.6},{"m":"2022-10","s":"7-8kW","k":4,"v":9.0},{"m":"2022-10","s":"8-9kW","k":5,"v":4.9},{"m":"2022-10","s":"9-10kW","k":6,"v":8.2},{"m":"2022-10","s":"10-11kW","k":7,"v":11.7},{"m":"2022-10","s":"11-12kW","k":8,"v":2.4},{"m":"2022-10","s":"12-13kW","k":9,"v":3.9},{"m":"2022-10","s":"13-14kW","k":10,"v":13.3},{"m":"2022-10","s":"14-15kW","k":11,"v":1.4},
{"m":"2022-11","s":"<3kW","k":0,"v":0.8},{"m":"2022-11","s":"3-5kW","k":1,"v":4.1},{"m":"2022-11","s":"5-6kW","k":2,"v":3.4},{"m":"2022-11","s":"6-7kW","k":3,"v":36.5},{"m":"2022-11","s":"7-8kW","k":4,"v":8.5},{"m":"2022-11","s":"8-9kW","k":5,"v":4.8},{"m":"2022-11","s":"9-10kW","k":6,"v":7.8},{"m":"2022-11","s":"10-11kW","k":7,"v":12.1},{"m":"2022-11","s":"11-12kW","k":8,"v":2.5},{"m":"2022-11","s":"12-13kW","k":9,"v":4.1},{"m":"2022-11","s":"13-14kW","k":10,"v":14.0},{"m":"2022-11","s":"14-15kW","k":11,"v":1.4},
{"m":"2022-12","s":"<3kW","k":0,"v":0.8},{"m":"2022-12","s":"3-5kW","k":1,"v":4.0},{"m":"2022-12","s":"5-6kW","k":2,"v":3.3},{"m":"2022-12","s":"6-7kW","k":3,"v":34.8},{"m":"2022-12","s":"7-8kW","k":4,"v":7.9},{"m":"2022-12","s":"8-9kW","k":5,"v":5.7},{"m":"2022-12","s":"9-10kW","k":6,"v":7.9},{"m":"2022-12","s":"10-11kW","k":7,"v":11.5},{"m":"2022-12","s":"11-12kW","k":8,"v":3.1},{"m":"2022-12","s":"12-13kW","k":9,"v":4.7},{"m":"2022-12","s":"13-14kW","k":10,"v":14.9},{"m":"2022-12","s":"14-15kW","k":11,"v":1.4},
{"m":"2023-01","s":"<3kW","k":0,"v":0.8},{"m":"2023-01","s":"3-5kW","k":1,"v":4.2},{"m":"2023-01","s":"5-6kW","k":2,"v":3.6},{"m":"2023-01","s":"6-7kW","k":3,"v":37.4},{"m":"2023-01","s":"7-8kW","k":4,"v":8.2},{"m":"2023-01","s":"8-9kW","k":5,"v":5.6},{"m":"2023-01","s":"9-10kW","k":6,"v":7.1},{"m":"2023-01","s":"10-11kW","k":7,"v":12.1},{"m":"2023-01","s":"11-12kW","k":8,"v":2.9},{"m":"2023-01","s":"12-13kW","k":9,"v":4.1},{"m":"2023-01","s":"13-14kW","k":10,"v":12.6},{"m":"2023-01","s":"14-15kW","k":11,"v":1.4},
{"m":"2023-02","s":"<3kW","k":0,"v":0.8},{"m":"2023-02","s":"3-5kW","k":1,"v":4.2},{"m":"2023-02","s":"5-6kW","k":2,"v":3.8},{"m":"2023-02","s":"6-7kW","k":3,"v":36.7},{"m":"2023-02","s":"7-8kW","k":4,"v":8.2},{"m":"2023-02","s":"8-9kW","k":5,"v":5.9},{"m":"2023-02","s":"9-10kW","k":6,"v":7.6},{"m":"2023-02","s":"10-11kW","k":7,"v":11.3},{"m":"2023-02","s":"11-12kW","k":8,"v":3.9},{"m":"2023-02","s":"12-13kW","k":9,"v":3.2},{"m":"2023-02","s":"13-14kW","k":10,"v":12.9},{"m":"2023-02","s":"14-15kW","k":11,"v":1.5},
{"m":"2023-03","s":"<3kW","k":0,"v":0.8},{"m":"2023-03","s":"3-5kW","k":1,"v":4.2},{"m":"2023-03","s":"5-6kW","k":2,"v":3.8},{"m":"2023-03","s":"6-7kW","k":3,"v":35.7},{"m":"2023-03","s":"7-8kW","k":4,"v":8.3},{"m":"2023-03","s":"8-9kW","k":5,"v":5.6},{"m":"2023-03","s":"9-10kW","k":6,"v":7.2},{"m":"2023-03","s":"10-11kW","k":7,"v":12.0},{"m":"2023-03","s":"11-12kW","k":8,"v":3.5},{"m":"2023-03","s":"12-13kW","k":9,"v":3.9},{"m":"2023-03","s":"13-14kW","k":10,"v":13.5},{"m":"2023-03","s":"14-15kW","k":11,"v":1.5},
{"m":"2023-04","s":"<3kW","k":0,"v":0.8},{"m":"2023-04","s":"3-5kW","k":1,"v":4.1},{"m":"2023-04","s":"5-6kW","k":2,"v":3.9},{"m":"2023-04","s":"6-7kW","k":3,"v":34.7},{"m":"2023-04","s":"7-8kW","k":4,"v":8.3},{"m":"2023-04","s":"8-9kW","k":5,"v":5.3},{"m":"2023-04","s":"9-10kW","k":6,"v":7.3},{"m":"2023-04","s":"10-11kW","k":7,"v":12.2},{"m":"2023-04","s":"11-12kW","k":8,"v":3.2},{"m":"2023-04","s":"12-13kW","k":9,"v":4.3},{"m":"2023-04","s":"13-14kW","k":10,"v":14.3},{"m":"2023-04","s":"14-15kW","k":11,"v":1.6},
{"m":"2023-05","s":"<3kW","k":0,"v":0.8},{"m":"2023-05","s":"3-5kW","k":1,"v":3.9},{"m":"2023-05","s":"5-6kW","k":2,"v":4.1},{"m":"2023-05","s":"6-7kW","k":3,"v":34.1},{"m":"2023-05","s":"7-8kW","k":4,"v":7.9},{"m":"2023-05","s":"8-9kW","k":5,"v":5.9},{"m":"2023-05","s":"9-10kW","k":6,"v":7.5},{"m":"2023-05","s":"10-11kW","k":7,"v":11.7},{"m":"2023-05","s":"11-12kW","k":8,"v":3.6},{"m":"2023-05","s":"12-13kW","k":9,"v":4.2},{"m":"2023-05","s":"13-14kW","k":10,"v":14.7},{"m":"2023-05","s":"14-15kW","k":11,"v":1.6},
{"m":"2023-06","s":"<3kW","k":0,"v":0.8},{"m":"2023-06","s":"3-5kW","k":1,"v":3.7},{"m":"2023-06","s":"5-6kW","k":2,"v":3.6},{"m":"2023-06","s":"6-7kW","k":3,"v":33.2},{"m":"2023-06","s":"7-8kW","k":4,"v":7.6},{"m":"2023-06","s":"8-9kW","k":5,"v":5.8},{"m":"2023-06","s":"9-10kW","k":6,"v":7.8},{"m":"2023-06","s":"10-11kW","k":7,"v":12.4},{"m":"2023-06","s":"11-12kW","k":8,"v":2.7},{"m":"2023-06","s":"12-13kW","k":9,"v":5.3},{"m":"2023-06","s":"13-14kW","k":10,"v":15.3},{"m":"2023-06","s":"14-15kW","k":11,"v":1.8},
{"m":"2023-07","s":"<3kW","k":0,"v":0.8},{"m":"2023-07","s":"3-5kW","k":1,"v":3.6},{"m":"2023-07","s":"5-6kW","k":2,"v":2.9},{"m":"2023-07","s":"6-7kW","k":3,"v":33.6},{"m":"2023-07","s":"7-8kW","k":4,"v":7.5},{"m":"2023-07","s":"8-9kW","k":5,"v":5.8},{"m":"2023-07","s":"9-10kW","k":6,"v":8.1},{"m":"2023-07","s":"10-11kW","k":7,"v":12.0},{"m":"2023-07","s":"11-12kW","k":8,"v":3.0},{"m":"2023-07","s":"12-13kW","k":9,"v":5.1},{"m":"2023-07","s":"13-14kW","k":10,"v":15.8},{"m":"2023-07","s":"14-15kW","k":11,"v":1.8},
{"m":"2023-08","s":"<3kW","k":0,"v":0.8},{"m":"2023-08","s":"3-5kW","k":1,"v":3.4},{"m":"2023-08","s":"5-6kW","k":2,"v":3.4},{"m":"2023-08","s":"6-7kW","k":3,"v":32.5},{"m":"2023-08","s":"7-8kW","k":4,"v":7.8},{"m":"2023-08","s":"8-9kW","k":5,"v":5.4},{"m":"2023-08","s":"9-10kW","k":6,"v":8.2},{"m":"2023-08","s":"10-11kW","k":7,"v":11.9},{"m":"2023-08","s":"11-12kW","k":8,"v":3.2},{"m":"2023-08","s":"12-13kW","k":9,"v":5.3},{"m":"2023-08","s":"13-14kW","k":10,"v":16.3},{"m":"2023-08","s":"14-15kW","k":11,"v":1.8},
{"m":"2023-09","s":"<3kW","k":0,"v":0.6},{"m":"2023-09","s":"3-5kW","k":1,"v":3.4},{"m":"2023-09","s":"5-6kW","k":2,"v":2.8},{"m":"2023-09","s":"6-7kW","k":3,"v":31.2},{"m":"2023-09","s":"7-8kW","k":4,"v":8.7},{"m":"2023-09","s":"8-9kW","k":5,"v":4.9},{"m":"2023-09","s":"9-10kW","k":6,"v":8.7},{"m":"2023-09","s":"10-11kW","k":7,"v":11.7},{"m":"2023-09","s":"11-12kW","k":8,"v":4.4},{"m":"2023-09","s":"12-13kW","k":9,"v":4.8},{"m":"2023-09","s":"13-14kW","k":10,"v":16.3},{"m":"2023-09","s":"14-15kW","k":11,"v":2.5}
]},
"mark": {"type": "bar", "strokeWidth": 1},
"encoding": {
  "x": {"field": "m", "type": "ordinal", "scale": {"paddingInner": 0, "paddingOuter": 0},
    "axis": {"orient": "bottom", "domain": false, "ticks": false, "labelAngle": 270, "labelAlign": "right", "labelBaseline": "middle", "labelPadding": 21, "labelOverlap": false, "labelBound": false,
      "labelExpr": "indexof(datum.label,'-01')>0?'Jan':indexof(datum.label,'-04')>0?'Apr':indexof(datum.label,'-07')>0?'Jul':indexof(datum.label,'-10')>0?'Oct':''"}},
  "y": {"field": "v", "type": "quantitative", "stack": "normalize", "scale": {"domain": [0, 1], "nice": false},
    "axis": {"domain": false, "ticks": false, "grid": false, "values": [0,0.1,0.2,0.3,0.4,0.5,0.6,0.7,0.8,0.9,1], "format": ".0%", "labelPadding": 18}},
  "color": {"field": "s", "type": "nominal",
    "scale": {"domain": ["14-15kW","13-14kW","12-13kW","11-12kW","10-11kW","9-10kW","8-9kW","7-8kW","6-7kW","5-6kW","3-5kW","<3kW"],
              "range": ["#990000","#002060","#FFFF00","#00668F","#E2E11C","#5A8A28","#FF0000","#BFBFBF","#FFC000","#00B0F0","#00B050","#92D050"]},
    "legend": {"orient": "none", "legendX": 837, "legendY": -82, "title": null, "symbolType": "square", "symbolSize": 144, "symbolStrokeWidth": 0,
      "labelFont": "Liberation Sans", "labelFontSize": 24, "labelColor": "#595959", "labelOffset": 3, "rowPadding": 20, "padding": 0}},
  "stroke": {"field": "s", "type": "nominal",
    "scale": {"domain": ["14-15kW","13-14kW","12-13kW","11-12kW","10-11kW","9-10kW","8-9kW","7-8kW","6-7kW","5-6kW","3-5kW","<3kW"],
              "range": ["#990000","#002060","#FFFF00","#00668F","#E2E11C","#5A8A28","#FF0000","#BFBFBF","#FFC000","#00B0F0","#00B050","#92D050"]},
    "legend": null},
  "order": {"field": "k", "type": "quantitative", "sort": "ascending"}
}
},
{
"data": {"values": [
{"q":"2018-1"},{"q":"2018-2"},{"q":"2018-3"},{"q":"2018-4"},
{"q":"2019-1"},{"q":"2019-2"},{"q":"2019-3"},{"q":"2019-4"},
{"q":"2020-1"},{"q":"2020-2"},{"q":"2020-3"},{"q":"2020-4"},
{"q":"2021-1"},{"q":"2021-2"},{"q":"2021-3"},{"q":"2021-4"},
{"q":"2022-1"},{"q":"2022-2"},{"q":"2022-3"},{"q":"2022-4"},
{"q":"2023-1"},{"q":"2023-2"},{"q":"2023-3"}
]},
"mark": {"type": "point", "opacity": 0},
"encoding": {
  "x": {"field": "q", "type": "ordinal", "scale": {"paddingInner": 0, "paddingOuter": 0},
    "axis": {"orient": "bottom", "domain": false, "ticks": false,
      "labelAngle": 0, "labelAlign": "center", "labelBaseline": "top", "labelPadding": 68, "labelExpr": "replace(datum.label, /^\\d+-/, '')"}}
}
},
{
"data": {"values": [{"p": 0}, {"p": 69}]},
"mark": {"type": "point", "opacity": 0},
"encoding": {
  "x": {"field": "p", "type": "quantitative", "scale": {"domain": [0, 69], "nice": false, "zero": false},
    "axis": {"orient": "bottom", "domain": false, "grid": false, "labels": false, "values": [3,6,9,15,18,21,27,30,33,39,42,45,51,54,57,63,66], "tickSize": 89, "tickColor": "#d9d9d9", "tickWidth": 1}}
}
},
{
"data": {"values": [{"p": 0}, {"p": 69}]},
"mark": {"type": "point", "opacity": 0},
"encoding": {
  "x": {"field": "p", "type": "quantitative", "scale": {"domain": [0, 69], "nice": false, "zero": false},
    "axis": {"orient": "bottom", "domain": false, "grid": false, "labels": false, "values": [0,12,24,36,48,60,69], "tickSize": 129, "tickColor": "#d9d9d9", "tickWidth": 1}}
}
},
{
"data": {"values": [{"p": 0}, {"p": 69}]},
"mark": {"type": "point", "opacity": 0},
"encoding": {
  "x": {"field": "p", "type": "quantitative", "scale": {"domain": [0, 69], "nice": false, "zero": false},
    "axis": {"orient": "bottom", "domain": false, "grid": false, "ticks": false, "values": [6,18,30,42,54,64.5], "labelPadding": 106, "labelBaseline": "top", "labelFlush": false, "labelBound": false,
      "labelExpr": "datum.value == 64.5 ? '2023' : '' + (2018 + floor(datum.value / 12))"}}
}
}
]
}
